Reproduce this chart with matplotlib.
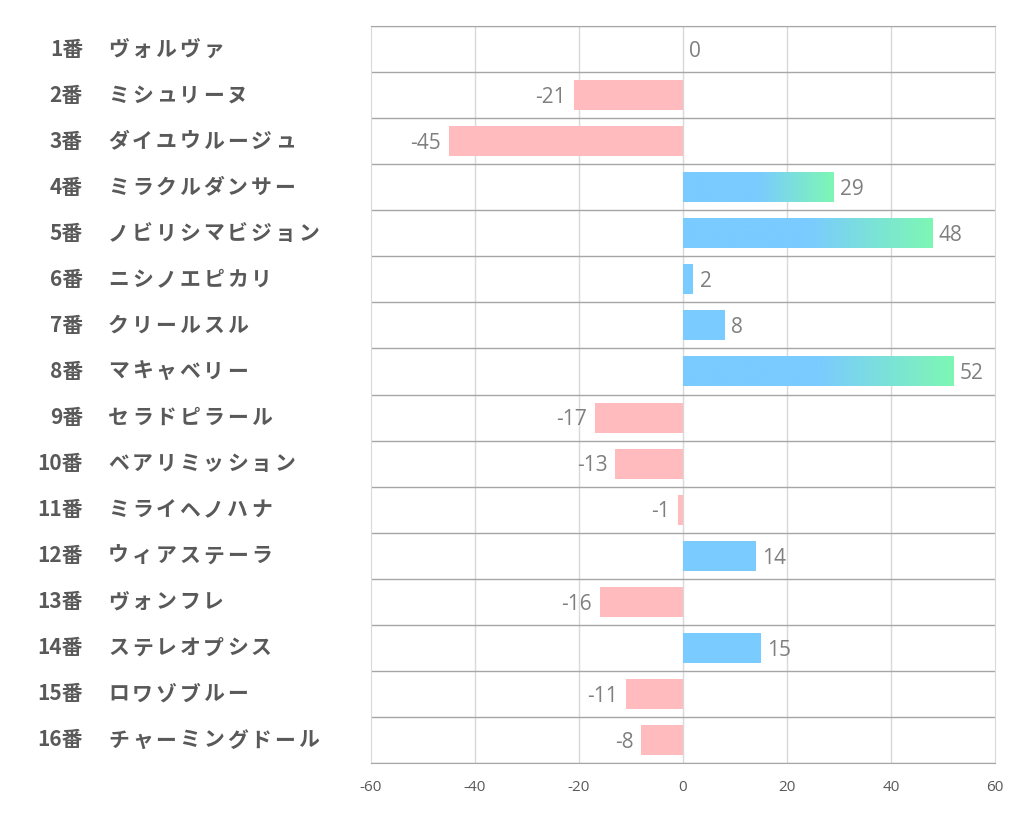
import numpy as np
import matplotlib.pyplot as plt
from matplotlib.colors import LinearSegmentedColormap
from matplotlib.transforms import blended_transform_factory

plt.rcParams['font.family'] = ['Noto Sans CJK JP', 'DejaVu Sans']

numbers = ['1番', '2番', '3番', '4番', '5番', '6番', '7番', '8番',
           '9番', '10番', '11番', '12番', '13番', '14番', '15番', '16番']
names = ['ヴォルヴァ', 'ミシュリーヌ', 'ダイユウルージュ', 'ミラクルダンサー',
         'ノビリシマビジョン', 'ニシノエピカリ', 'クリールスル', 'マキャベリー',
         'セラドピラール', 'ベアリミッション', 'ミライヘノハナ', 'ウィアステーラ',
         'ヴォンフレ', 'ステレオプシス', 'ロワゾブルー', 'チャーミングドール']
values = [0, -21, -45, 29, 48, 2, 8, 52, -17, -13, -1, 14, -16, 15, -11, -8]
xticks = [-60, -40, -20, 0, 20, 40, 60]

blue = '#7ACBFF'
green = '#7DF7B4'
pink = '#FFBBBD'
grad = LinearSegmentedColormap.from_list('bg', [blue, blue, green], N=256)
num_font = ['Open Sans', 'DejaVu Sans']

W, H = 1022, 834
fig = plt.figure(figsize=(W / 100, H / 100), dpi=100)
ax = fig.add_axes([371 / W, 1 - 763 / H, 624 / W, 737 / H])

n = len(values)
h = 0.65

for i, v in enumerate(values):
    y = i + 0.5
    if v < 0:
        ax.barh(y, v, height=h, color=pink, zorder=3)
    elif v >= 20:
        g = np.linspace(0, 1, 256).reshape(1, -1)
        ax.imshow(g, cmap=grad, extent=(0, v, y + h / 2, y - h / 2),
                  aspect='auto', zorder=3, interpolation='bilinear')
    elif v > 0:
        ax.barh(y, v, height=h, color=blue, zorder=3)
    if v < 0:
        ax.text(v - 1.5, y + 0.05, str(v), ha='right', va='center',
                fontsize=15, color='#7F7F7F', family=num_font)
    else:
        ax.text(v + 1.2, y + 0.05, str(v), ha='left', va='center',
                fontsize=15, color='#7F7F7F', family=num_font)

ax.set_xlim(-60, 60)
ax.set_ylim(n, 0)

# grid
for x in xticks[1:-1]:
    ax.axvline(x, color='#D9D9D9', lw=1, zorder=1)
for k in range(n + 1):
    ax.axhline(k, color='#A6A6A6', lw=1, zorder=2)
for s in ['left', 'right']:
    ax.spines[s].set_color('#D9D9D9')
for s in ['top', 'bottom']:
    ax.spines[s].set_color('#A6A6A6')

ax.set_xticks(xticks)
ax.set_xticklabels([str(t) for t in xticks], color='#595959', fontsize=11,
                   family=num_font)
ax.tick_params(axis='x', length=0, pad=12)
ax.set_yticks([])

# row labels: number right-aligned, name with wide character pitch
tr = blended_transform_factory(fig.transFigure, ax.transData)
pitch = 23.8
for i in range(n):
    ax.text(83 / W, i + 0.5, numbers[i], transform=tr, ha='right', va='center',
            fontsize=15, fontweight='bold', color='#595959')
    for k, ch in enumerate(names[i]):
        ax.text((108 + k * pitch) / W, i + 0.5, ch, transform=tr,
                ha='left', va='center',
                fontsize=15, fontweight='bold', color='#595959')

fig.savefig('out.png', dpi=100)
